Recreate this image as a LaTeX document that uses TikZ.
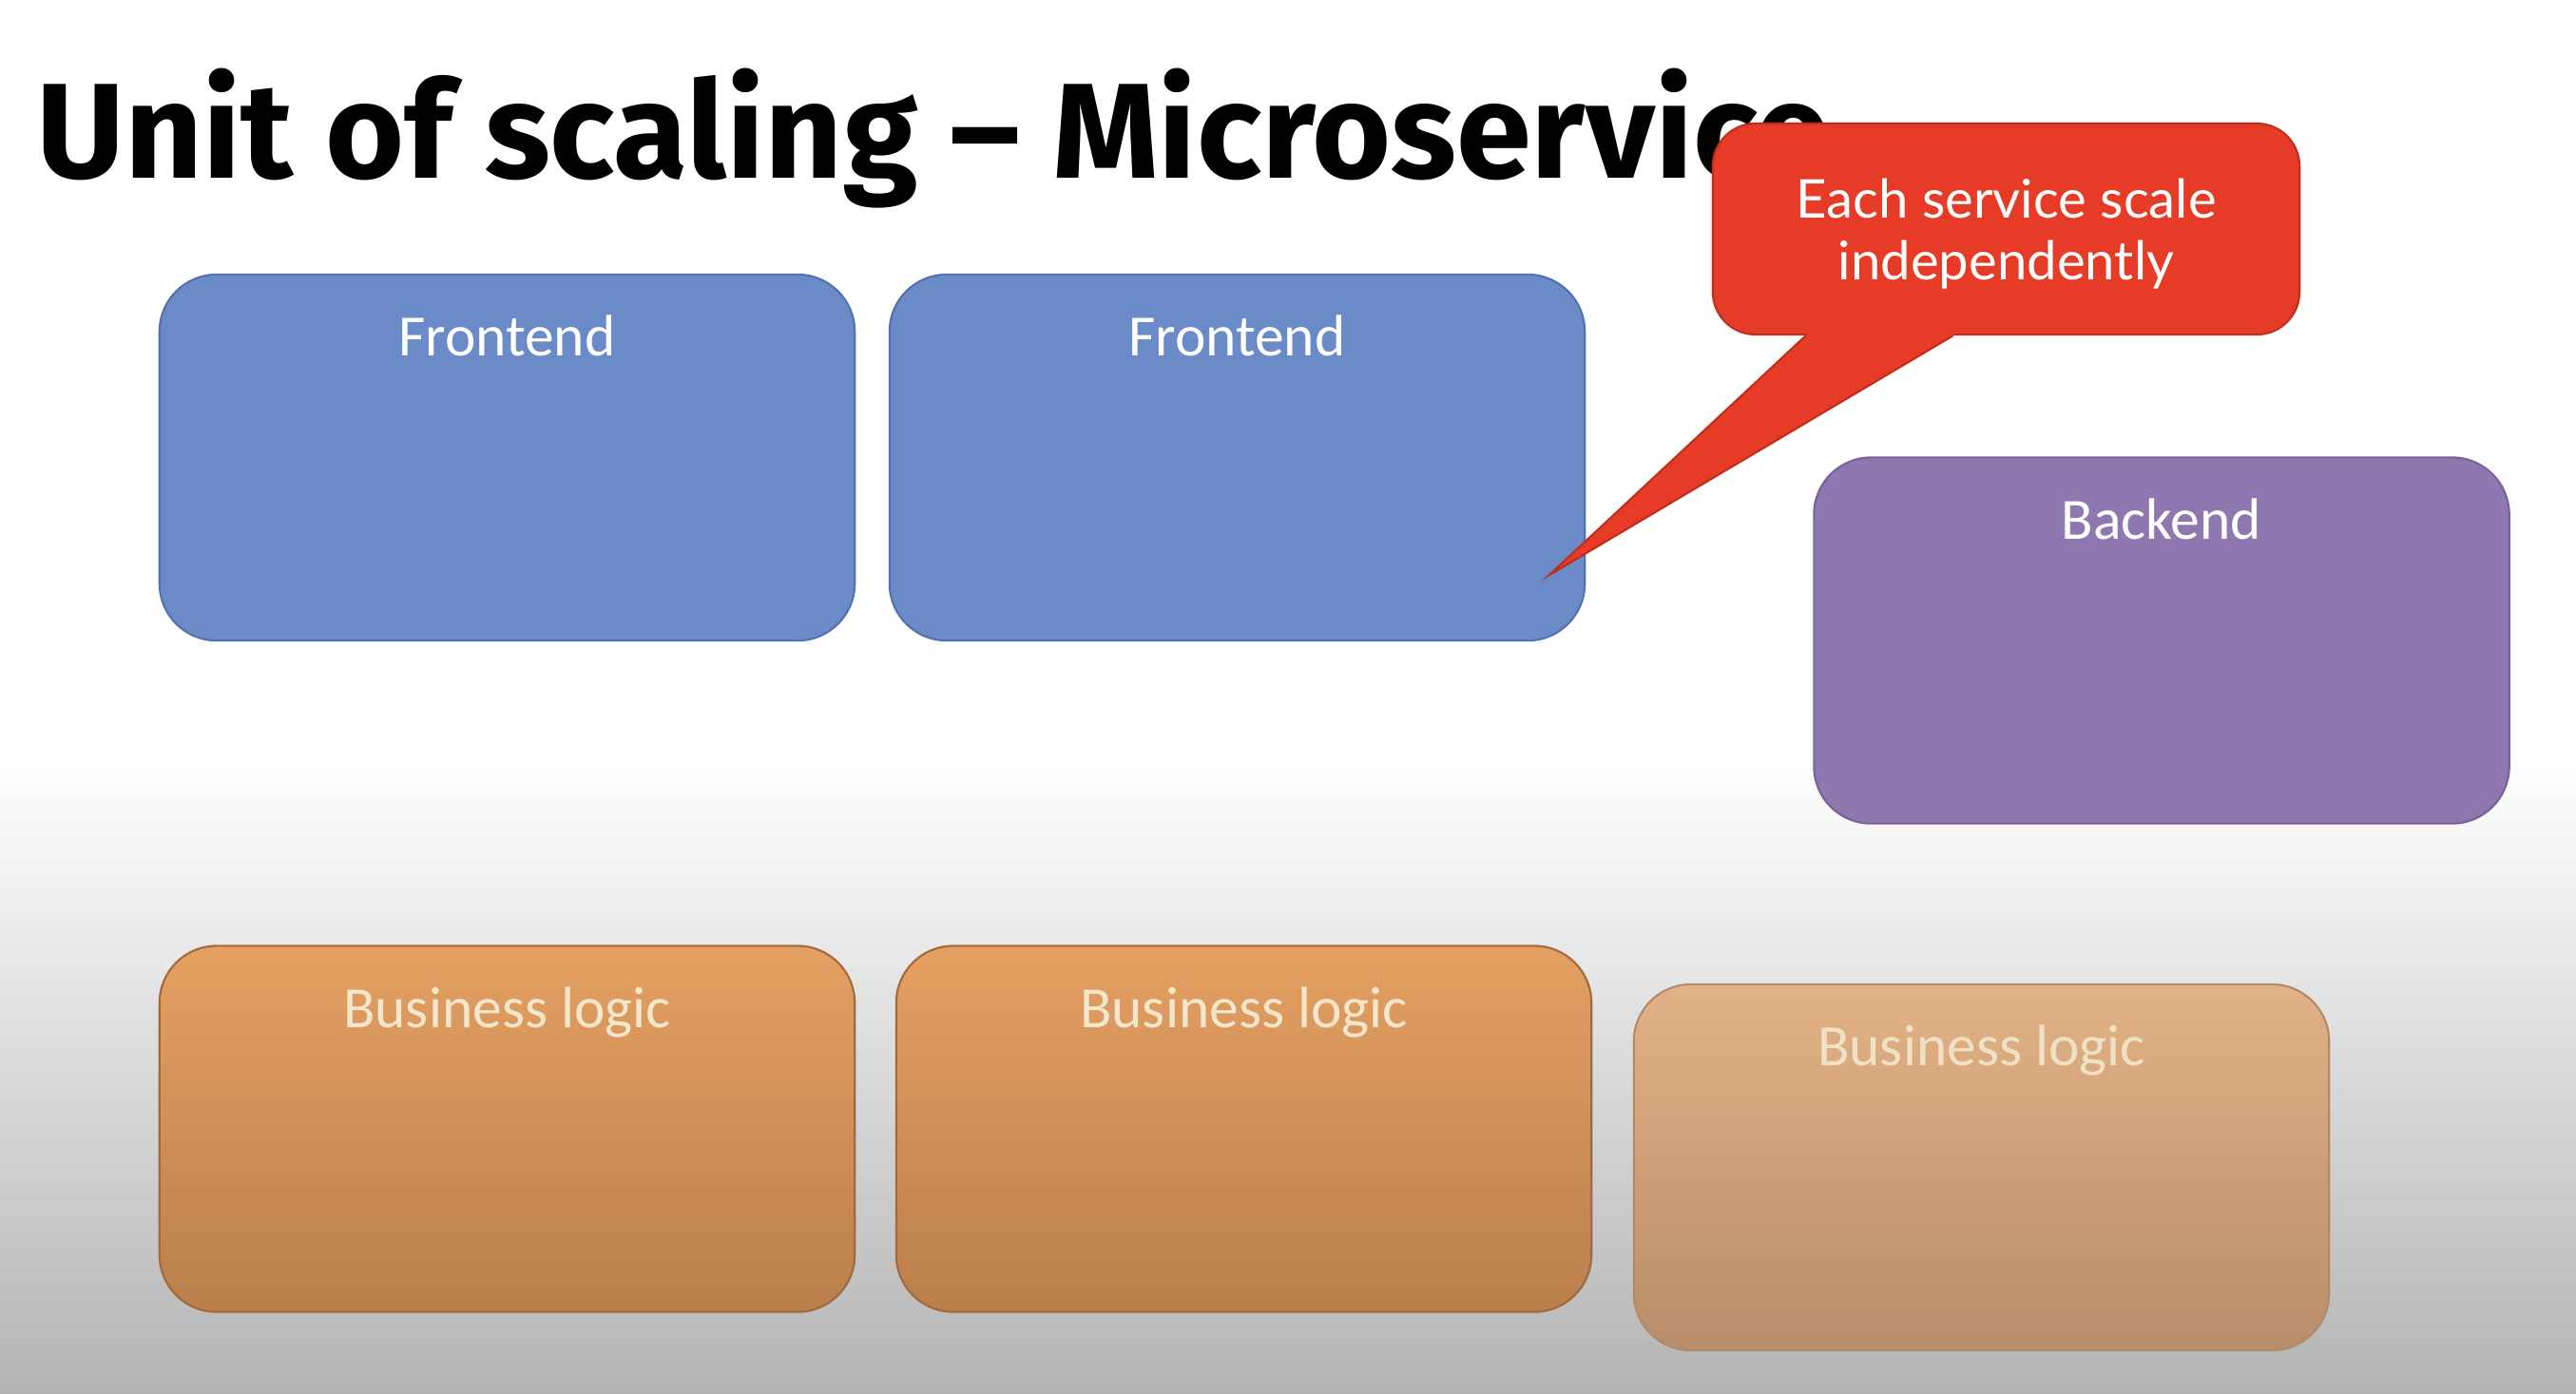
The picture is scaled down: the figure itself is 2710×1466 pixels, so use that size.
\documentclass[tikz,border=0pt]{standalone}
\usepackage{fontspec}
\setmainfont{Carlito}
\newfontfamily\titlefont{Fira Sans}
\newfontfamily\notefont{Lato}
\usetikzlibrary{calc}

\definecolor{feblue}{HTML}{6A8AC8}
\definecolor{feline}{HTML}{5272B0}
\definecolor{bepurple}{HTML}{8E78AF}
\definecolor{beline}{HTML}{75639A}
\definecolor{bltop}{HTML}{E5A062}
\definecolor{blbot}{HTML}{B97F4C}
\definecolor{blline}{HTML}{A06A3D}
\definecolor{faintop}{HTML}{E3B286}
\definecolor{fainbot}{HTML}{B88D69}
\definecolor{fainline}{HTML}{B08A6C}
\definecolor{callred}{HTML}{E63B26}
\definecolor{callline}{HTML}{C02F1E}
\definecolor{bltext}{HTML}{F2E6CC}
\definecolor{bggray}{HTML}{B4B4B4}

\tikzset{
  service/.style={rounded corners=0.6cm, minimum width=7.31cm, minimum height=3.85cm, line width=0.6pt},
  lbl/.style={anchor=base, yshift=-0.87cm, font=\fontsize{17.5}{20}\selectfont, inner sep=0pt},
  frontbox/.style={service, fill=feblue, draw=feline, label={[lbl,text=white]north:Frontend}},
  backbox/.style={service, fill=bepurple, draw=beline, label={[lbl,text=white]north:Backend}},
  logicbox/.style={service, top color=bltop, bottom color=blbot, draw=blline, label={[lbl,text=bltext]north:Business logic}},
  fadedbox/.style={service, top color=faintop, bottom color=fainbot, draw=fainline, label={[lbl,text=bltext!90!faintop]north:Business logic}},
  notebox/.style={rounded corners=0.45cm, minimum width=6.17cm, minimum height=2.22cm, fill=callred, draw=callline, line width=0.6pt,
    text=white, align=center, text depth=0pt, font=\notefont\fontsize{16}{18.5}\selectfont}
}

\begin{document}
\begin{tikzpicture}[x=0.01cm,y=-0.01cm]
  % page and shaded floor
  \fill[white] (0,0) rectangle (2710,1466);
  \shade[top color=white, bottom color=bggray] (0,800) rectangle (2710,1466);
  \useasboundingbox (0,0) rectangle (2710,1466);

  \node[anchor=base west, inner sep=0pt, font=\titlefont\bfseries\fontsize{40.5}{46}\selectfont] (title) at (38,187) {Unit of scaling – Microservice};

  % services
  \node[frontbox] (front1) at (533.5,481.5) {};
  \node[frontbox] (front2) at (1301.5,481.5) {};
  \node[backbox] (back) at (2274,674) {};
  \node[logicbox] (logic1) at (533.5,1188) {};
  \node[logicbox] (logic2) at (1308.5,1188) {};
  \node[fadedbox] (logic3) at (2084.5,1228.5) {};

  % callout
  \node[notebox] (note) at (2110.5,241) {Each service scale\\independently};
  \coordinate (tip) at (1630,605);
  \coordinate (tailA) at ($(note.south west)+(99,0)$);
  \coordinate (tailB) at ($(note.south west)+(254,0)$);
  \fill[callred] ($(tailA)+(0,-4)$) -- (tailA) -- (tip) -- (tailB) -- ($(tailB)+(0,-4)$) -- cycle;
  \draw[callline, line width=0.6pt] (tailA) -- (tip) -- (tailB);
\end{tikzpicture}
\end{document}
